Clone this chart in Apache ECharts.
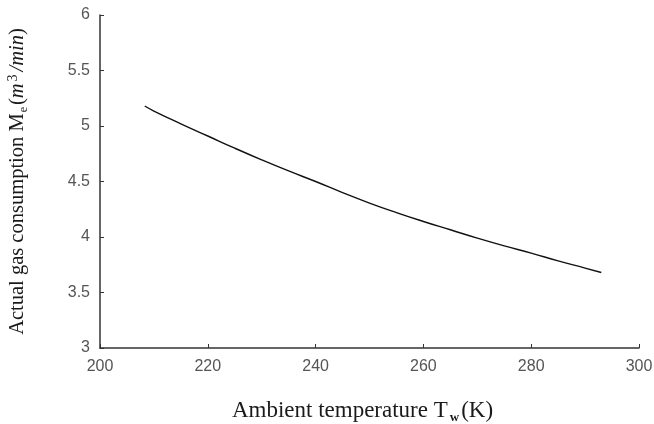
<!DOCTYPE html>
<html>
<head>
<meta charset="utf-8">
<script src="https://cdn.jsdelivr.net/npm/echarts@6/dist/echarts.min.js"></script>
<style>html,body{margin:0;padding:0;background:#fff}#c{width:654px;height:424px}</style>
</head>
<body>
<div id="c"></div>
<script>
const temps = [208.3, 210, 215, 220, 225, 230, 235, 240, 245, 250, 255, 260, 265, 270, 275, 280, 285, 290, 293];
const consumption = [5.18, 5.135, 5.02, 4.91, 4.80, 4.695, 4.595, 4.50, 4.40, 4.306, 4.22, 4.14, 4.065, 3.99, 3.92, 3.855, 3.785, 3.72, 3.68];
const xTicks = [200, 220, 240, 260, 280, 300];
const yTicks = [3, 3.5, 4, 4.5, 5, 5.5, 6];

const chart = echarts.init(document.getElementById('c'), null, {renderer: 'canvas'});
const serif = '"Liberation Serif", "DejaVu Serif", serif';
const sans = '"Liberation Sans", Arial, sans-serif';
chart.setOption({
  animation: false,
  backgroundColor: '#fff',
  grid: {left: 100, right: 15, top: 15, bottom: 76, containLabel: false, outerBoundsMode: 'none'},
  xAxis: {
    type: 'value', min: xTicks[0], max: xTicks[xTicks.length - 1], interval: 20,
    name: '{n|Ambient temperature T}{sub|w}{n|(K)}',
    nameLocation: 'middle', nameGap: 50,
    nameTextStyle: {
      padding: [0, 14, 0, 0],
      rich: {
        n: {fontFamily: serif, fontSize: 23, color: '#1a1a1a', lineHeight: 26},
        sub: {fontFamily: serif, fontSize: 13, fontWeight: 'bold', color: '#1a1a1a', verticalAlign: 'bottom', lineHeight: 16, padding: [9, 2, 0, 2]}
      }
    },
    axisLine: {show: true, lineStyle: {color: '#333', width: 1.5}},
    axisTick: {show: true, inside: true, length: 4, lineStyle: {color: '#333'}},
    axisLabel: {color: '#555', fontFamily: sans, fontSize: 16, margin: 11},
    splitLine: {show: false}
  },
  yAxis: {
    type: 'value', min: yTicks[0], max: yTicks[yTicks.length - 1], interval: 0.5,
    name: '{n|Actual gas consumption M}{sub|e}{n|(}{i|m}{sup|3}{i|/min}{n|)}',
    nameLocation: 'middle', nameGap: 70, nameRotate: 90,
    nameTextStyle: {
      rich: {
        n: {fontFamily: serif, fontSize: 20.5, color: '#1a1a1a', lineHeight: 24},
        i: {fontFamily: serif, fontSize: 20.5, fontStyle: 'italic', color: '#1a1a1a', lineHeight: 24},
        sub: {fontFamily: serif, fontSize: 12, color: '#1a1a1a', verticalAlign: 'bottom', lineHeight: 15, padding: [8, 2, 0, 1]},
        sup: {fontFamily: serif, fontSize: 14, color: '#1a1a1a', verticalAlign: 'top', lineHeight: 15, padding: [0, 3, 8, 2]}
      }
    },
    axisLine: {show: true, lineStyle: {color: '#333', width: 1.5}},
    axisTick: {show: true, inside: true, length: 4, lineStyle: {color: '#333'}},
    axisLabel: {color: '#555', fontFamily: sans, fontSize: 16, margin: 10},
    splitLine: {show: false}
  },
  series: [{
    type: 'line',
    data: temps.map((t, i) => [t, consumption[i]]),
    smooth: true,
    showSymbol: false,
    lineStyle: {color: '#111', width: 1.4}
  }]
});
</script>
</body>
</html>
